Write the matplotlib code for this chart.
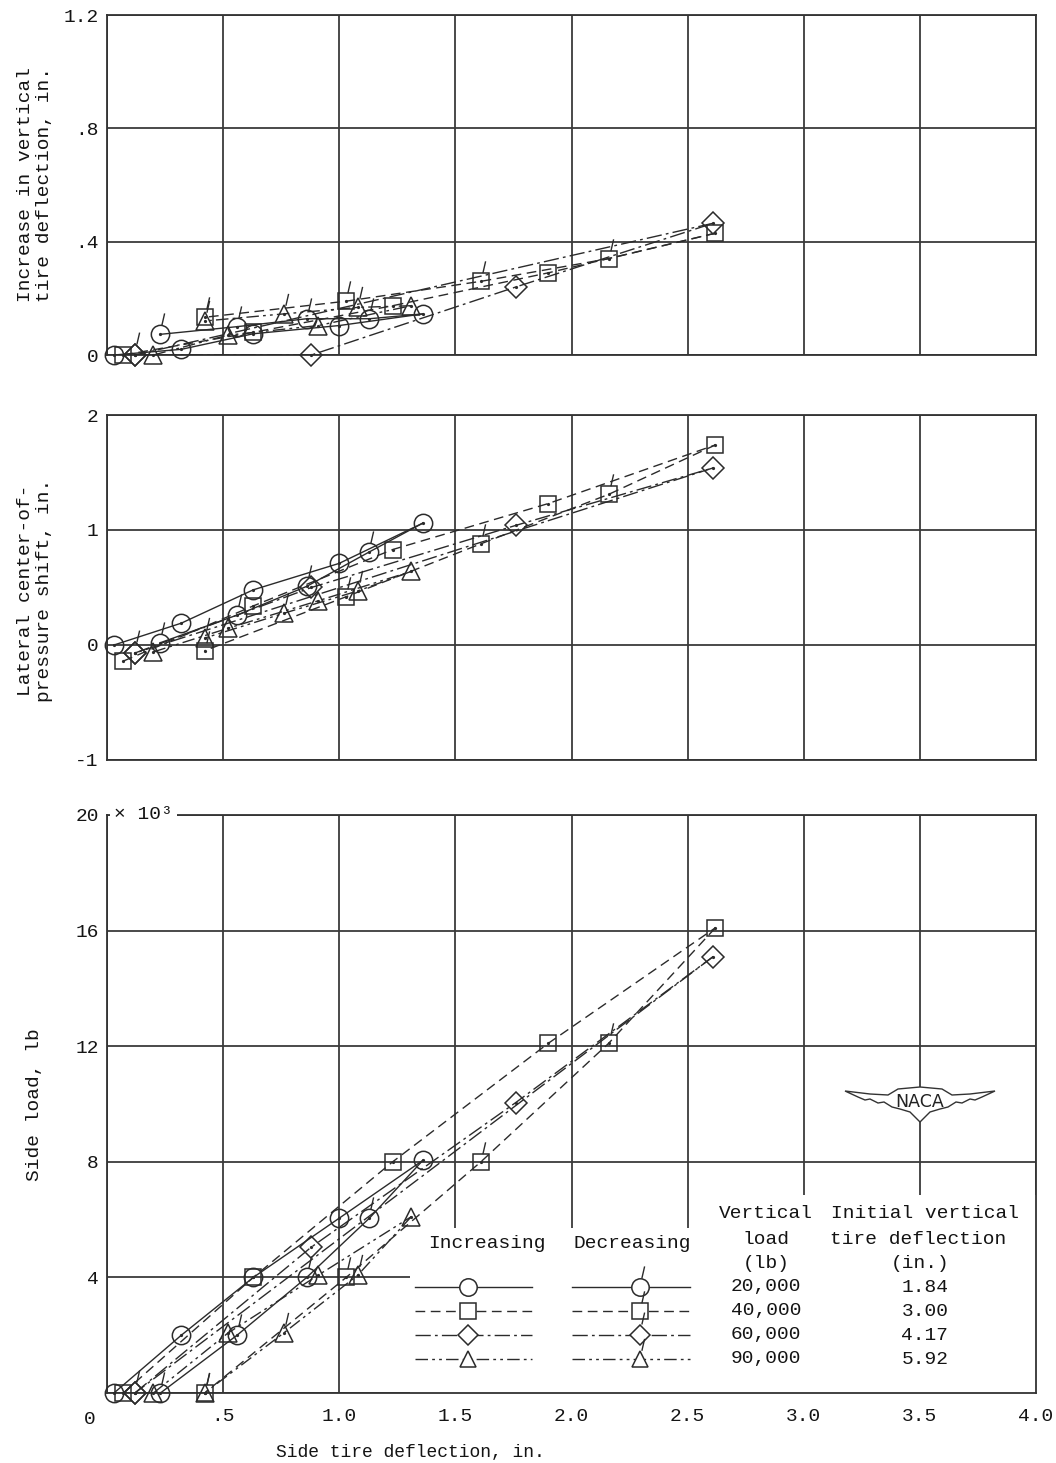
# Side tire deflection tests - vertical deflection, centre-of-pressure shift and side load

import numpy as np
from matplotlib import pyplot as plt
from matplotlib.path import Path
from matplotlib.patches import Rectangle, Polygon

plt.rcParams['font.family'] = ['Liberation Mono', 'DejaVu Sans Mono']
plt.rcParams['font.size'] = 14

# ---- data (side tire deflection, in.) ----
# 20,000 lb (circles)
x20_inc = [0.03, 0.32, 0.63, 1.00, 1.36]
x20_dec = [1.36, 1.13, 0.86, 0.56, 0.23]
vert20_inc = [0.0, 0.02, 0.075, 0.104, 0.145]
vert20_dec = [0.145, 0.128, 0.128, 0.10, 0.073]
lat20_inc = [0.0, 0.19, 0.48, 0.71, 1.06]
lat20_dec = [1.06, 0.81, 0.51, 0.26, 0.02]
load20_inc = [0.0, 2.0, 4.0, 6.05, 8.05]
load20_dec = [8.05, 6.05, 4.0, 2.0, 0.0]

# 40,000 lb (squares)
x40_inc = [0.07, 0.63, 1.23, 1.90, 2.62]
x40_dec = [2.62, 2.16, 1.61, 1.03, 0.42]
vert40_inc = [0.0, 0.08, 0.174, 0.29, 0.43]
vert40_dec = [0.43, 0.34, 0.26, 0.19, 0.133]
lat40_inc = [-0.14, 0.34, 0.83, 1.23, 1.74]
lat40_dec = [1.74, 1.31, 0.88, 0.42, -0.05]
load40_inc = [0.0, 4.0, 8.0, 12.1, 16.1]
load40_dec = [16.1, 12.1, 8.0, 4.0, 0.0]

# 60,000 lb (diamonds)
x60_inc = [0.12, 0.88, 1.76, 2.61]
x60_dec = [2.61, 0.12]
vert60_inc = [0.0, 0.0, 0.24, 0.465]
vert60_dec = [0.465, 0.0]
lat60_inc = [-0.07, 0.50, 1.04, 1.54]
lat60_dec = [1.54, -0.07]
load60_inc = [0.0, 5.05, 10.05, 15.1]
load60_dec = [15.1, 0.0]

# 90,000 lb (triangles)
x90_inc = [0.20, 0.52, 0.91, 1.31]
x90_dec = [1.31, 1.08, 0.76, 0.42]
vert90_inc = [0.0, 0.07, 0.104, 0.174]
vert90_dec = [0.174, 0.168, 0.145, 0.12]
lat90_inc = [-0.06, 0.145, 0.385, 0.64]
lat90_dec = [0.64, 0.47, 0.275, 0.06]
load90_inc = [0.0, 2.07, 4.08, 6.1]
load90_dec = [6.1, 4.08, 2.07, 0.0]

loads = ['20,000', '40,000', '60,000', '90,000']
init_defl = ['1.84', '3.00', '4.17', '5.92']

# marker / line style for each load
markers = ['o', 's', 'D', '^']
msizes = [13.2, 11.6, 11.2, 12.5]
tops = [1.0, 0.9, 1.2, 0.95]      # marker top in units of U pt (for the tick flag)
styles = ['-', (0, (7, 4)), (0, (11, 3, 2, 3)), (0, (9, 3, 2, 3, 2, 3))]
LC = '#2b2b2b'
TC = '#141414'
U = 6.6  # pt

W, H = 1056, 1463


def box(x0, y0, x1, y1):
    return [x0 / W, 1 - y1 / H, (x1 - x0) / W, (y1 - y0) / H]


def flag(top):
    '''tick flag marking the decreasing points'''
    verts = [(0.15, top), (0.45, top + 1.3)]
    path = Path(verts, [Path.MOVETO, Path.LINETO])
    return path, 2 * U * (top + 1.3)


def series(ax, x, y, i, dec):
    ax.plot(x, y, ls=styles[i], color=LC, lw=1.0, zorder=3)
    every = slice(1, None) if dec else None
    ax.plot(x, y, ls='none', marker=markers[i], ms=msizes[i], mfc='none',
            mec=LC, mew=1.1, markevery=every, zorder=4, clip_on=False)
    ax.plot(x, y, ls='none', marker='o', ms=1.3, color=LC,
            markevery=every, zorder=4, clip_on=False)
    if dec:
        path, ms = flag(tops[i])
        ax.plot(x, y, ls='none', marker=path, ms=ms, mec=LC, mew=1.0,
                markevery=every, zorder=4, clip_on=False)


fig = plt.figure(figsize=(10.56, 14.63), dpi=100)
ax1 = fig.add_axes(box(107, 15, 1036, 355))
ax2 = fig.add_axes(box(107, 415, 1036, 760))
ax3 = fig.add_axes(box(107, 815, 1036, 1393))

panels = [
    (ax1, [(x20_inc, vert20_inc, x20_dec, vert20_dec),
           (x40_inc, vert40_inc, x40_dec, vert40_dec),
           (x60_inc, vert60_inc, x60_dec, vert60_dec),
           (x90_inc, vert90_inc, x90_dec, vert90_dec)]),
    (ax2, [(x20_inc, lat20_inc, x20_dec, lat20_dec),
           (x40_inc, lat40_inc, x40_dec, lat40_dec),
           (x60_inc, lat60_inc, x60_dec, lat60_dec),
           (x90_inc, lat90_inc, x90_dec, lat90_dec)]),
    (ax3, [(x20_inc, load20_inc, x20_dec, load20_dec),
           (x40_inc, load40_inc, x40_dec, load40_dec),
           (x60_inc, load60_inc, x60_dec, load60_dec),
           (x90_inc, load90_inc, x90_dec, load90_dec)]),
]

for ax, data in panels:
    for i, (xi, yi, xd, yd) in enumerate(data):
        series(ax, xi, yi, i, False)
        series(ax, xd, yd, i, True)
    ax.set_xlim(0, 4)
    ax.set_xticks(np.arange(0, 4.01, 0.5))
    ax.set_axisbelow(True)
    ax.grid(True, color='#3a3a3a', lw=1.3)
    ax.tick_params(length=0, pad=6, colors=TC)
    for s in ax.spines.values():
        s.set_color('#333')
        s.set_linewidth(1.3)

ax1.set_ylim(0, 1.2)
ax1.set_yticks([0, 0.4, 0.8, 1.2], ['0', '.4', '.8', '1.2'])
ax1.set_xticklabels([])

ax2.set_ylim(-1, 2)
ax2.set_yticks([-1, 0, 1, 2], ['-1', '0', '1', '2'])
ax2.set_xticklabels([])

ax3.set_ylim(0, 20)
ax3.set_yticks([0, 4, 8, 12, 16, 20], ['', '4', '8', '12', '16', '20'])
ax3.set_xticklabels(['', '.5', '1.0', '1.5', '2.0', '2.5', '3.0', '3.5', '4.0'])
ax3.tick_params(axis='x', pad=11)
fig.text(90 / W, 1 - 1420 / H, '0', ha='center', va='center', color=TC)
ax3.text(0.03, 20, '× 10³', ha='left', va='center', color=TC, zorder=6,
         bbox=dict(fc='white', ec='none', pad=3))

# axis titles
fig.text(35 / W, 1 - 185 / H, 'Increase in vertical\ntire deflection, in.',
         rotation=90, ha='center', va='center', ma='center', color=TC)
fig.text(35 / W, 1 - 590 / H, 'Lateral center-of-\npressure shift, in.',
         rotation=90, ha='center', va='center', ma='center', color=TC)
fig.text(35 / W, 1 - 1105 / H, 'Side load, lb',
         rotation=90, ha='center', va='center', color=TC)
fig.text(410 / W, 1 - 1452 / H, 'Side tire deflection, in.', fontsize=13,
         ha='center', va='center', color=TC)


# ---- key in the lower right of the side load panel ----
def fx(px):
    return (px - 107) / 929


def fy(py):
    return (1393 - py) / 578


T = ax3.transAxes
ax3.add_patch(Rectangle((fx(410), 0), 1 - fx(410), fy(1228), transform=T,
                        fc='white', ec='none', zorder=1))
ax3.add_patch(Rectangle((fx(700), fy(1228)), 1 - fx(700), fy(1195) - fy(1228),
                        transform=T, fc='white', ec='none', zorder=1))

kw = dict(transform=T, ha='center', va='center', color=TC, zorder=6)
ax3.text(fx(487), fy(1243), 'Increasing', **kw)
ax3.text(fx(632), fy(1243), 'Decreasing', **kw)
ax3.text(fx(766), fy(1214), 'Vertical', **kw)
ax3.text(fx(766), fy(1239), 'load', **kw)
ax3.text(fx(766), fy(1263), '(lb)', **kw)
ax3.text(fx(925), fy(1214), 'Initial vertical', **kw)
ax3.text(fx(918), fy(1239), 'tire deflection', **kw)
ax3.text(fx(920), fy(1263), '(in.)', **kw)

for i in range(4):
    yy = fy(1287 + 24 * i)
    ax3.plot([fx(415), fx(532)], [yy, yy], ls=styles[i], color=LC, lw=1.0,
             transform=T, clip_on=False, zorder=5)
    ax3.plot([fx(572), fx(690)], [yy, yy], ls=styles[i], color=LC, lw=1.0,
             transform=T, clip_on=False, zorder=5)
    for px in (468, 640):
        ax3.plot([fx(px)], [yy], marker=markers[i], ms=msizes[i] * 0.95,
                 mfc='white', mec=LC, mew=1.1, transform=T, clip_on=False,
                 zorder=6)
    path, ms = flag(tops[i])
    ax3.plot([fx(640)], [yy], marker=path, ms=ms, mec=LC, mew=1.0,
             transform=T, clip_on=False, zorder=6)
    ax3.text(fx(766), yy, loads[i], **kw)
    ax3.text(fx(925), yy, init_defl[i], **kw)

# NACA wings
cx, cy = 920, 1103
wing = [(-75, -12), (-50, -9), (-32, -8), (-22, -14), (0, -16), (22, -14),
        (32, -8), (50, -9), (75, -12), (62, -6), (55, -3), (50, -4), (42, 0),
        (36, -1), (28, 4), (20, 6), (10, 9), (0, 19), (-10, 9), (-20, 6),
        (-28, 4), (-36, -1), (-42, 0), (-50, -4), (-55, -3), (-62, -6)]
pts = [((cx + dx) / W, 1 - (cy + dy) / H) for dx, dy in wing]
fig.patches.append(Polygon(pts, closed=True, fc='white', ec='#333', lw=1.0,
                           transform=fig.transFigure))
fig.text(cx / W, 1 - (cy - 1) / H, 'NACA', family='DejaVu Sans', fontsize=12.5,
         ha='center', va='center', color='#222')

plt.savefig('out.png', dpi=100)
